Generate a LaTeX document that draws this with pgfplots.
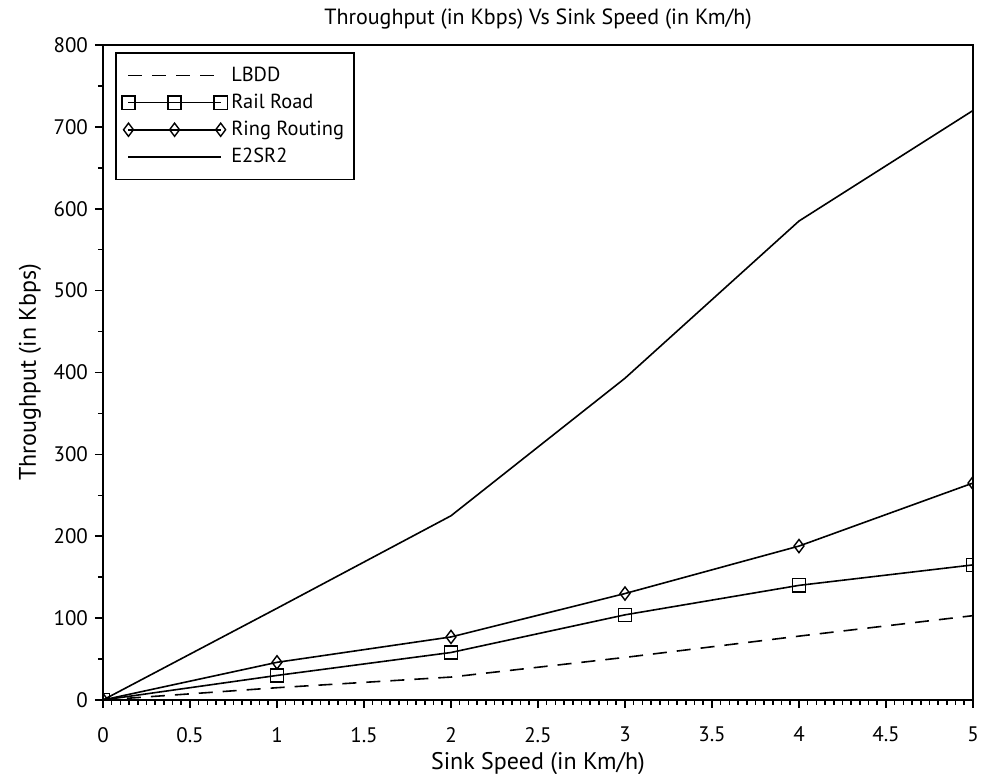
\documentclass[border=0pt]{standalone}
\usepackage{fontspec}
\setmainfont{PT Sans}
\usepackage{pgfplots}
\pgfplotsset{compat=1.18}
\begin{document}
\begin{tikzpicture}
\path[use as bounding box] (-51.5pt,-37pt) rectangle (442pt,350pt);
\begin{axis}[
  scale only axis, width=435pt, height=327.5pt,
  xmin=0, xmax=5, ymin=0, ymax=800,
  xtick={0,0.5,...,5}, ytick={0,100,...,800},
  xticklabels={0,0.5,1,1.5,2,2.5,3,3.5,4,4.5,5},
  minor x tick num=9, minor y tick num=1,
  tick pos=left, tick align=outside,
  major tick length=4pt, minor tick length=2.5pt,
  tick style={black, line width=0.8pt},
  axis line style={line width=0.9pt},
  /pgf/number format/assume math mode=true,
  ticklabel style={font=\fontsize{10.5}{12}\selectfont},
  xticklabel style={yshift=-6pt},
  title={Throughput (in Kbps) Vs Sink Speed (in Km/h)},
  title style={font=\fontsize{11}{13}\selectfont, at={(0.5,1)}, yshift=-1.5pt},
  xlabel={Sink Speed (in Km/h)}, ylabel={Throughput (in Kbps)},
  label style={font=\fontsize{12}{14}\selectfont},
  xlabel style={at={(axis description cs:0.5,0)}, anchor=center, yshift=-32pt},
  ylabel style={at={(axis description cs:0,0.5)}, anchor=center, rotate=0, xshift=0pt, yshift=36.5pt},
  clip mode=individual, clip marker paths=true,
  legend style={at={(0.014,0.989)}, anchor=north west, draw=black, line width=0.7pt,
    font=\fontsize{10.2}{12}\selectfont, inner xsep=3pt, inner ysep=5pt, row sep=0.8pt,
    legend cell align=left},
  legend image code/.code={\draw[mark repeat=1,mark phase=1] plot coordinates {(0cm,0cm) (0.81cm,0cm) (1.62cm,0cm)};},
  every axis plot/.append style={line width=0.8pt, black},
]
\addplot[dash pattern=on 7pt off 5pt, mark=none] coordinates {(0,0) (1,15) (2,28) (3,52) (4,78) (5,103)};
\addlegendentry{LBDD}
\addplot[mark=square, mark size=3.3pt, mark options={solid, line width=0.7pt, fill=white}] coordinates {(0,0) (1,30) (2,58) (3,104) (4,140) (5,165)};
\addlegendentry{Rail Road}
\addplot[mark=diamond, mark size=3.3pt, mark options={solid, line width=0.7pt, fill=white}] coordinates {(0,0) (1,46) (2,77) (3,130) (4,188) (5,265)};
\addlegendentry{Ring Routing}
\addplot[mark=none] coordinates {(0,0) (1,112) (2,225) (3,393) (4,585) (5,720)};
\addlegendentry{E2SR2}
\end{axis}
\end{tikzpicture}
\end{document}
